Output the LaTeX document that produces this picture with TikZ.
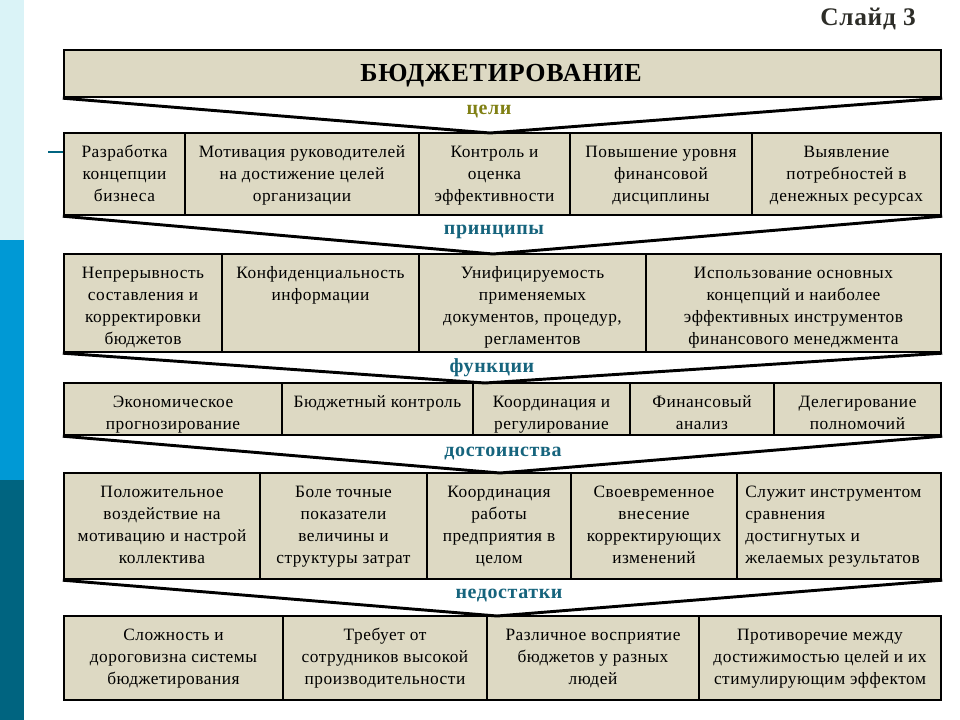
\documentclass[tikz,border=0pt]{standalone}
\usepackage{fontspec}
\setmainfont[LetterSpace=3]{Liberation Serif}
\definecolor{cellfill}{RGB}{221,217,195}
\definecolor{olivelbl}{RGB}{128,128,20}
\definecolor{teallbl}{RGB}{22,100,125}
\definecolor{stripA}{RGB}{218,243,247}
\definecolor{stripB}{RGB}{0,153,213}
\definecolor{stripC}{RGB}{0,100,128}
\definecolor{slidetxt}{RGB}{45,45,40}
\tikzset{
  rowbox/.style={draw=black, fill=cellfill, line width=1.8pt, inner sep=0pt, rectangle},
  divline/.style={draw=black, line width=1.4pt},
  funnel/.style={draw=black, line width=2.2pt, line join=miter},
  celltxt/.style={font=\fontsize{13}{16.5}\selectfont, inner sep=0pt, anchor=north, align=center},
  lbl/.style={font=\fontsize{15}{18}\selectfont\bfseries, text=teallbl, inner sep=0pt, anchor=base},
}
\newcommand\mycell[5]{%
  \pgfmathsetmacro\myx{(#2+#3)/2}%
  \node[celltxt] (#1) at (\myx,#4+9) {\strut #5};}
\begin{document}
\begin{tikzpicture}[x=0.75pt,y=-0.75pt]
\useasboundingbox (0,0) rectangle (960,720);
% left strip
\fill[stripA] (0,0) rectangle (24,240);
\fill[stripB] (0,240) rectangle (24,480);
\fill[stripC] (0,480) rectangle (24,720);
% slide number
\node[font=\fontsize{19}{22}\selectfont\bfseries, text=slidetxt, inner sep=0pt, anchor=base] (slide) at (868,26) {Слайд 3};
% rows
\node[rowbox, minimum width=657.75pt, minimum height=35.25pt] (r0) at (502.5,73.5) {};
\node[font=\fontsize{19.5}{24}\selectfont\bfseries, inner sep=0pt, anchor=base] (title) at (501,82) {БЮДЖЕТИРОВАНИЕ};
\node[rowbox, minimum width=657.75pt, minimum height=61.5pt] (r1) at (502.5,174) {};
\node[rowbox, minimum width=657.75pt, minimum height=73.5pt] (r2) at (502.5,303) {};
\node[rowbox, minimum width=657.75pt, minimum height=39pt] (r3) at (502.5,409) {};
\node[rowbox, minimum width=657.75pt, minimum height=79.5pt] (r4) at (502.5,526) {};
\node[rowbox, minimum width=657.75pt, minimum height=63pt] (r5) at (502.5,658) {};
% dividers
\foreach \x in {185,419,570,752} \draw[divline] (\x,133) -- (\x,215);
\foreach \x in {222,419,646} \draw[divline] (\x,254) -- (\x,352);
\foreach \x in {282,473,630,774} \draw[divline] (\x,383) -- (\x,435);
\foreach \x in {260,427,571,737} \draw[divline] (\x,473) -- (\x,579);
\foreach \x in {283,487,699} \draw[divline] (\x,616) -- (\x,700);
% funnels
\coordinate (a1) at (490,133);
\coordinate (a2) at (493,254);
\coordinate (a3) at (485,383);
\coordinate (a4) at (500,473);
\coordinate (a5) at (497,616);
\draw[funnel] (r0.south west) -- (a1) -- (r0.south east);
\draw[funnel] (r1.south west) -- (a2) -- (r1.south east);
\draw[funnel] (r2.south west) -- (a3) -- (r2.south east);
\draw[funnel] (r3.south west) -- (a4) -- (r3.south east);
\draw[funnel] (r4.south west) -- (a5) -- (r4.south east);
% labels
\node[lbl, text=olivelbl] (l1) at (489,115) {цели};
\node[lbl] (l2) at (494,235) {принципы};
\node[lbl] (l3) at (492,372) {функции};
\node[lbl] (l4) at (503,456) {достоинства};
\node[lbl] (l5) at (509,598) {недостатки};
% small tick at left
\coordinate (tick) at (48,152);
\draw[draw=stripC, line width=1.6pt] (tick) -- (tick -| r1.west);
% row 1
\mycell{c11}{64}{185}{133}{Разработка\\концепции\\бизнеса}
\mycell{c12}{185}{419}{133}{Мотивация руководителей\\на достижение целей\\организации}
\mycell{c13}{419}{570}{133}{Контроль и\\оценка\\эффективности}
\mycell{c14}{570}{752}{133}{Повышение уровня\\финансовой\\дисциплины}
\mycell{c15}{752}{941}{133}{Выявление\\потребностей в\\денежных ресурсах}
% row 2
\mycell{c21}{64}{222}{254}{Непрерывность\\составления и\\корректировки\\бюджетов}
\mycell{c22}{222}{419}{254}{Конфиденциальность\\информации}
\mycell{c23}{419}{646}{254}{Унифицируемость\\применяемых\\документов, процедур,\\регламентов}
\mycell{c24}{646}{941}{254}{Использование основных\\концепций и наиболее\\эффективных инструментов\\финансового менеджмента}
% row 3
\mycell{c31}{64}{282}{383}{Экономическое\\прогнозирование}
\mycell{c32}{282}{473}{383}{Бюджетный контроль}
\mycell{c33}{473}{630}{383}{Координация и\\регулирование}
\mycell{c34}{630}{774}{383}{Финансовый\\анализ}
\mycell{c35}{774}{941}{383}{Делегирование\\полномочий}
% row 4
\mycell{c41}{64}{260}{473}{Положительное\\воздействие на\\мотивацию и настрой\\коллектива}
\mycell{c42}{260}{427}{473}{Боле точные\\показатели\\величины и\\структуры затрат}
\mycell{c43}{427}{571}{473}{Координация\\работы\\предприятия в\\целом}
\mycell{c44}{571}{737}{473}{Своевременное\\внесение\\корректирующих\\изменений}
\node[celltxt, anchor=north west, align=left] (c45) at (745,482) {\strut Служит инструментом\\сравнения\\достигнутых и\\желаемых результатов};
% row 5
\mycell{c51}{64}{283}{616}{Сложность и\\дороговизна системы\\бюджетирования}
\mycell{c52}{283}{487}{616}{Требует от\\сотрудников высокой\\производительности}
\mycell{c53}{487}{699}{616}{Различное восприятие\\бюджетов у разных\\людей}
\mycell{c54}{699}{941}{616}{Противоречие между\\достижимостью целей и их\\стимулирующим эффектом}
\end{tikzpicture}
\end{document}
